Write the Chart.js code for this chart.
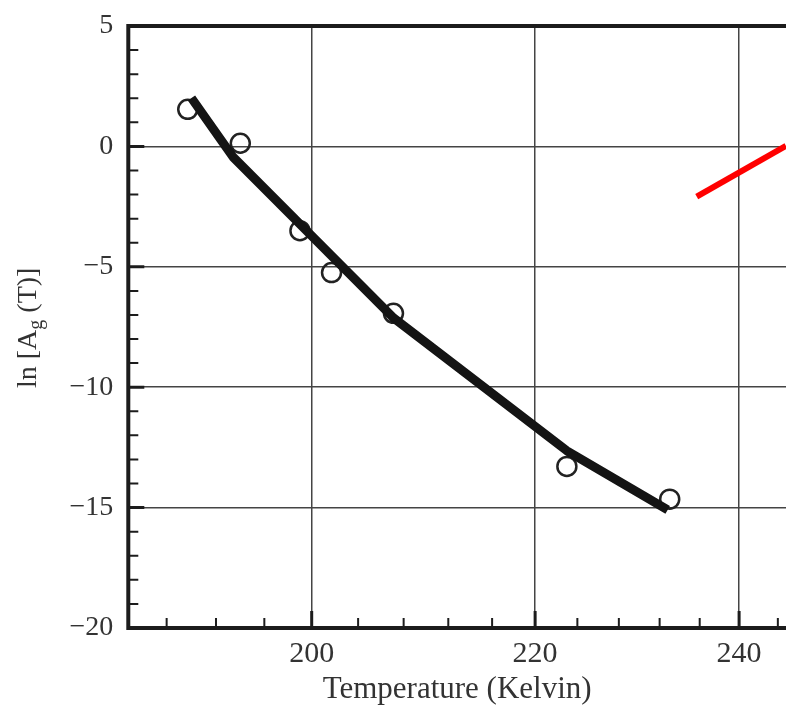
<!DOCTYPE html>
<html><head><meta charset="utf-8">
<script src="https://cdn.jsdelivr.net/npm/chart.js@4/dist/chart.umd.min.js"></script>
<style>html,body{margin:0;padding:0;background:#fff;overflow:hidden}#wrap{width:786px;height:708px;position:relative}</style>
</head><body><div id="wrap"><canvas id="c" width="786" height="708"></canvas></div>
<script>
// Measured points (Temperature, ln Ag)
const temperature = [189.7, 194.0, 199.0, 201.7, 207.1, 223.0, 233.0];
const lnAg = [1.54, 0.13, -3.50, -5.24, -6.93, -13.29, -14.65];
// Fitted thick curve
const fitTemperature = [190.0, 193.4, 207.1, 223.0, 232.8];
const fitLnAg = [2.01, -0.44, -7.12, -12.64, -15.09];
// Red segment at the right edge
const redTemperature = [235.7, 244.85];
const redLnAg = [-2.09, 0.02];
// Ticks
const xMajorTicks = [200, 220, 240];
const xMinorTicks = [188, 192, 196, 204, 208, 212, 216, 224, 228, 232, 236, 244];
const yMajorTicks = [5, 0, -5, -10, -15, -20];
const yMinorTicks = [4,3,2,1,-1,-2,-3,-4,-6,-7,-8,-9,-11,-12,-13,-14,-16,-17,-18,-19];
const xTitle = 'Temperature (Kelvin)';
const yTitleParts = ['ln [A', 'g', ' (T)]'];

const FONT = "'Liberation Serif', 'DejaVu Serif', serif";
const AXIS_COLOR = '#1c1c1c';

const axesPlugin = {
  id: 'axesPlugin',
  beforeDatasetsDraw(chart) {
    const {ctx, chartArea: a, scales: {x, y}} = chart;
    ctx.save();
    ctx.strokeStyle = AXIS_COLOR;
    ctx.lineCap = 'butt';
    ctx.lineWidth = 2;
    ctx.beginPath();
    xMinorTicks.forEach(v => { const px = x.getPixelForValue(v); ctx.moveTo(px, a.bottom); ctx.lineTo(px, a.bottom - 10); });
    yMinorTicks.forEach(v => { const py = y.getPixelForValue(v); ctx.moveTo(a.left, py); ctx.lineTo(a.left + 10, py); });
    ctx.stroke();
    ctx.lineWidth = 3;
    ctx.beginPath();
    xMajorTicks.forEach(v => { const px = x.getPixelForValue(v); ctx.moveTo(px, a.bottom); ctx.lineTo(px, a.bottom - 17); });
    yMajorTicks.forEach(v => { const py = y.getPixelForValue(v); ctx.moveTo(a.left, py); ctx.lineTo(a.left + 16, py); });
    ctx.stroke();
    ctx.lineWidth = 4;
    ctx.beginPath();
    ctx.moveTo(a.right + 5, a.top); ctx.lineTo(a.left, a.top); ctx.lineTo(a.left, a.bottom); ctx.lineTo(a.right + 5, a.bottom);
    ctx.stroke();
    ctx.restore();
  },
  afterDraw(chart) {
    const {ctx} = chart;
    ctx.save();
    ctx.translate(36, 388);
    ctx.rotate(-Math.PI / 2);
    ctx.fillStyle = '#333';
    ctx.textBaseline = 'alphabetic';
    ctx.textAlign = 'left';
    ctx.font = '28px ' + FONT;
    let xx = 0;
    ctx.fillText(yTitleParts[0], xx, 0);
    xx += ctx.measureText(yTitleParts[0]).width;
    ctx.font = '20px ' + FONT;
    ctx.fillText(yTitleParts[1], xx, 6);
    xx += ctx.measureText(yTitleParts[1]).width;
    ctx.font = '28px ' + FONT;
    ctx.fillText(yTitleParts[2], xx, 0);
    ctx.restore();
  }
};

const pts = temperature.map((t, i) => ({x: t, y: lnAg[i]}));
const fit = fitTemperature.map((t, i) => ({x: t, y: fitLnAg[i]}));
const red = redTemperature.map((t, i) => ({x: t, y: redLnAg[i]}));

new Chart(document.getElementById('c'), {
  type: 'scatter',
  data: {
    datasets: [
      {label: 'red', data: red, showLine: true, borderColor: '#ff0000', borderWidth: 6, pointRadius: 0, borderCapStyle: 'butt'},
      {label: 'fit', data: fit, showLine: true, borderColor: '#141414', borderWidth: 9, pointRadius: 0, tension: 0, borderJoinStyle: 'round', borderCapStyle: 'butt'},
      {label: 'data', data: pts, showLine: false, pointStyle: 'circle', pointRadius: 9.5, borderWidth: 2.5, borderColor: '#222', backgroundColor: 'rgba(0,0,0,0)'}
    ]
  },
  options: {
    responsive: false,
    animation: false,
    layout: {autoPadding: false, padding: {top: 26, right: 0, left: 0, bottom: 0}},
    plugins: {legend: {display: false}, tooltip: {enabled: false}},
    scales: {
      x: {
        type: 'logarithmic',
        min: 184.95, max: 244.85,
        afterBuildTicks: s => { s.ticks = xMajorTicks.map(v => ({value: v})); },
        afterFit: s => { s.height = 80; s.paddingLeft = 0; s.paddingRight = 0; },
        ticks: {autoSkip: false, maxRotation: 0, padding: 8, color: '#333', font: {family: FONT, size: 30},
          callback: v => xMajorTicks.includes(v) ? String(v) : ''},
        grid: {color: '#444', lineWidth: 1.5, drawTicks: false},
        border: {display: false},
        title: {display: true, text: xTitle, color: '#333', font: {family: FONT, size: 31}, padding: {top: 0, bottom: 0}}
      },
      y: {
        type: 'linear', min: -20, max: 5,
        afterBuildTicks: s => { s.ticks = yMajorTicks.map(v => ({value: v})); },
        afterFit: s => { s.width = 128.3; s.paddingTop = 0; s.paddingBottom = 0; },
        ticks: {autoSkip: false, padding: 15, color: '#333', font: {family: FONT, size: 28},
          callback: v => String(v).replace('-', '\u2212')},
        grid: {color: '#444', lineWidth: 1.5, drawTicks: false},
        border: {display: false}
      }
    }
  },
  plugins: [axesPlugin]
});
</script>
</body></html>
